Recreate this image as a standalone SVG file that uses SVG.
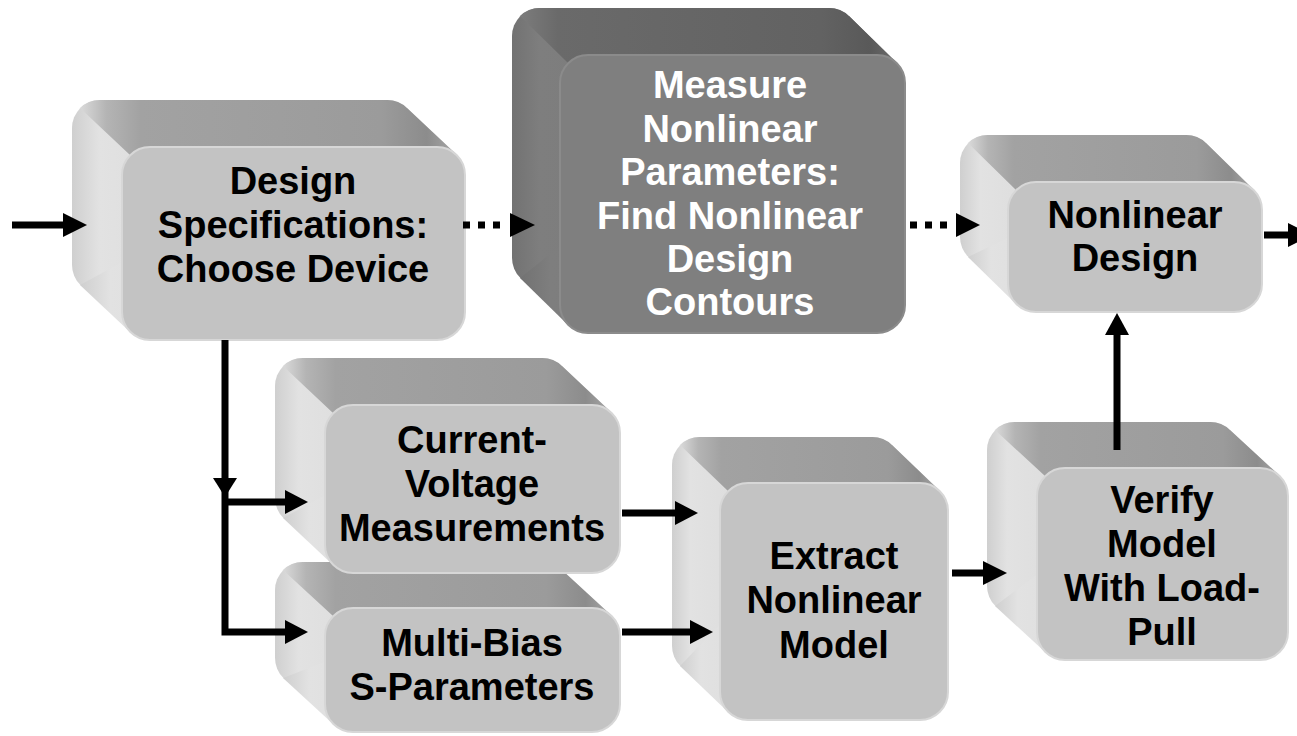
<svg xmlns="http://www.w3.org/2000/svg" width="1297" height="736" viewBox="0 0 1297 736">
<defs>
<linearGradient id="sideL" x1="0" y1="0" x2="1" y2="0">
<stop offset="0" stop-color="#cfcfcf"/><stop offset="0.08" stop-color="#e2e2e2"/><stop offset="0.4" stop-color="#dadada"/><stop offset="1" stop-color="#d2d2d2"/>
</linearGradient>
<linearGradient id="topL" x1="0" y1="0" x2="1" y2="0">
<stop offset="0" stop-color="#dadada"/><stop offset="0.07" stop-color="#b4b4b4"/><stop offset="0.16" stop-color="#a2a2a2"/><stop offset="0.8" stop-color="#9b9b9b"/><stop offset="0.92" stop-color="#8c8c8c"/><stop offset="1" stop-color="#a8a8a8"/>
</linearGradient>
<linearGradient id="sideD" x1="0" y1="0" x2="1" y2="0">
<stop offset="0" stop-color="#727272"/><stop offset="0.08" stop-color="#7e7e7e"/><stop offset="1" stop-color="#767676"/>
</linearGradient>
<linearGradient id="topD" x1="0" y1="0" x2="1" y2="0">
<stop offset="0" stop-color="#7c7c7c"/><stop offset="0.1" stop-color="#6a6a6a"/><stop offset="0.8" stop-color="#626262"/><stop offset="0.93" stop-color="#595959"/><stop offset="1" stop-color="#6c6c6c"/>
</linearGradient>
</defs>
<style>
.sL{fill:url(#sideL)}
.tL{fill:url(#topL)}
.fL{fill:#c3c3c3;stroke:#d7d7d7;stroke-width:2}
.sD{fill:url(#sideD)}
.tD{fill:url(#topD)}
.fD{fill:#7f7f7f;stroke:#8b8b8b;stroke-width:2}
text{font-family:"Liberation Sans",Arial,sans-serif;font-weight:bold;font-size:38px;text-anchor:middle;fill:#000}
.w{fill:#fff}
.ln{fill:none;stroke:#000;stroke-width:7}
.dot{fill:none;stroke:#000;stroke-width:7;stroke-dasharray:7 8}
.hd{fill:#000}
</style>
<rect width="1297" height="736" fill="#fff"/>

<g id="node-design">
<g transform="translate(72,100)">
<rect width="343" height="193" rx="28" class="sL"/>
<polygon points="335,8 385,55 58,232 8,185" class="sL"/>
<path d="M8,8 A28,28 0 0 1 28,0 H315 A28,28 0 0 1 335,8 L385,55 H58 Z" class="tL"/>
<rect x="50" y="47" width="343" height="193" rx="28" class="fL"/>
</g>
<text x="293" y="194">Design</text>
<text x="293" y="238">Specifications:</text>
<text x="293" y="282">Choose Device</text>
</g>

<g id="node-measure">
<g transform="translate(512,8)">
<rect width="345" height="278" rx="28" class="sD"/>
<polygon points="337,8 385,55 56,317 8,270" class="sD"/>
<path d="M8,8 A28,28 0 0 1 28,0 H317 A28,28 0 0 1 337,8 L385,55 H56 Z" class="tD"/>
<rect x="48" y="47" width="345" height="278" rx="28" class="fD"/>
</g>
<text class="w" x="730" y="98">Measure</text>
<text class="w" x="730" y="142">Nonlinear</text>
<text class="w" x="730" y="185">Parameters:</text>
<text class="w" x="730" y="229">Find Nonlinear</text>
<text class="w" x="730" y="272">Design</text>
<text class="w" x="730" y="315">Contours</text>
</g>

<g id="node-nldesign">
<g transform="translate(960,135)">
<rect width="254" height="130" rx="28" class="sL"/>
<polygon points="246,8 294,55 56,169 8,122" class="sL"/>
<path d="M8,8 A28,28 0 0 1 28,0 H226 A28,28 0 0 1 246,8 L294,55 H56 Z" class="tL"/>
<rect x="48" y="47" width="254" height="130" rx="28" class="fL"/>
</g>
<text x="1135" y="228">Nonlinear</text>
<text x="1135" y="271">Design</text>
</g>

<g id="node-multibias">
<g transform="translate(275,562)">
<rect width="295" height="124" rx="28" class="sL"/>
<polygon points="287,8 337,54 58,162 8,116" class="sL"/>
<path d="M8,8 A28,28 0 0 1 28,0 H267 A28,28 0 0 1 287,8 L337,54 H58 Z" class="tL"/>
<rect x="50" y="46" width="295" height="124" rx="28" class="fL"/>
</g>
<text x="472" y="656">Multi-Bias</text>
<text x="472" y="700">S-Parameters</text>
</g>

<g id="node-iv">
<g transform="translate(275,358)">
<rect width="295" height="168" rx="28" class="sL"/>
<polygon points="287,8 337,55 58,207 8,160" class="sL"/>
<path d="M8,8 A28,28 0 0 1 28,0 H267 A28,28 0 0 1 287,8 L337,55 H58 Z" class="tL"/>
<rect x="50" y="47" width="295" height="168" rx="28" class="fL"/>
</g>
<text x="472" y="453">Current-</text>
<text x="472" y="497">Voltage</text>
<text x="472" y="541">Measurements</text>
</g>

<g id="node-extract">
<g transform="translate(672,437)">
<rect width="228" height="237" rx="28" class="sL"/>
<polygon points="220,8 268,54 56,275 8,229" class="sL"/>
<path d="M8,8 A28,28 0 0 1 28,0 H200 A28,28 0 0 1 220,8 L268,54 H56 Z" class="tL"/>
<rect x="48" y="46" width="228" height="237" rx="28" class="fL"/>
</g>
<text x="834" y="569">Extract</text>
<text x="834" y="613">Nonlinear</text>
<text x="834" y="658">Model</text>
</g>

<g id="node-verify">
<g transform="translate(987,422)">
<rect width="251" height="192" rx="28" class="sL"/>
<polygon points="243,8 293,54 58,230 8,184" class="sL"/>
<path d="M8,8 A28,28 0 0 1 28,0 H223 A28,28 0 0 1 243,8 L293,54 H58 Z" class="tL"/>
<rect x="50" y="46" width="251" height="192" rx="28" class="fL"/>
</g>
<text x="1162" y="513">Verify</text>
<text x="1162" y="557">Model</text>
<text x="1162" y="601">With Load-</text>
<text x="1162" y="645">Pull</text>
</g>

<g id="connectors">
<line x1="12" y1="225" x2="66" y2="225" class="ln"/>
<polygon points="63,213 87,225 63,237" class="hd"/>
<line x1="463" y1="225" x2="508" y2="225" class="dot"/>
<polygon points="510,213 535,225 510,237" class="hd"/>
<line x1="910" y1="225" x2="955" y2="225" class="dot"/>
<polygon points="956,213 980,225 956,237" class="hd"/>
<line x1="1264" y1="235" x2="1290" y2="235" class="ln"/>
<polygon points="1288,223 1312,235 1288,247" class="hd"/>
<path d="M225,340 V632 H288" class="ln"/>
<polygon points="213,478 237,478 225,497" class="hd"/>
<line x1="225" y1="502" x2="288" y2="502" class="ln"/>
<polygon points="285,490 308,502 285,514" class="hd"/>
<polygon points="285,620 308,632 285,644" class="hd"/>
<line x1="622" y1="513" x2="678" y2="513" class="ln"/>
<polygon points="675,501 698,513 675,525" class="hd"/>
<line x1="622" y1="632" x2="693" y2="632" class="ln"/>
<polygon points="690,620 713,632 690,644" class="hd"/>
<line x1="952" y1="573" x2="986" y2="573" class="ln"/>
<polygon points="983,561 1007,573 983,585" class="hd"/>
<line x1="1117" y1="450" x2="1117" y2="332" class="ln"/>
<polygon points="1105,335 1117,313 1129,335" class="hd"/>
</g>
</svg>
